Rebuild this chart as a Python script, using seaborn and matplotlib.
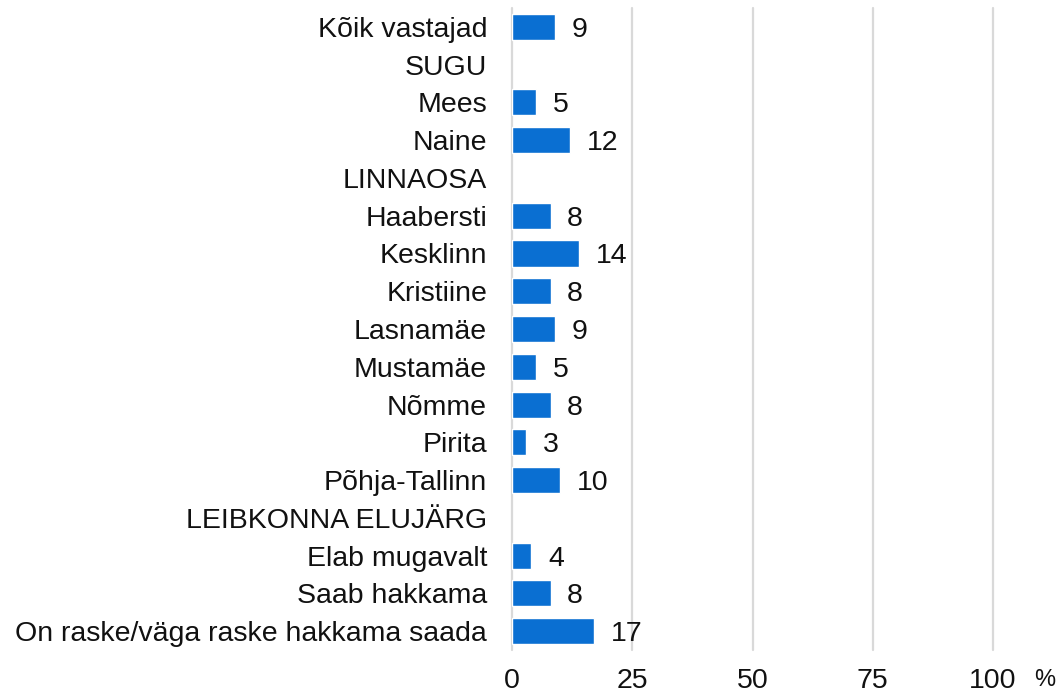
import numpy as np
import pandas as pd
import matplotlib
matplotlib.use('Agg')
import matplotlib.pyplot as plt
import seaborn as sns

# Data
categories = ['Kõik vastajad', 'SUGU', 'Mees', 'Naine', 'LINNAOSA', 'Haabersti',
              'Kesklinn', 'Kristiine', 'Lasnamäe', 'Mustamäe', 'Nõmme', 'Pirita',
              'Põhja-Tallinn', 'LEIBKONNA ELUJÄRG', 'Elab mugavalt', 'Saab hakkama',
              'On raske/väga raske hakkama saada']
values = [9, np.nan, 5, 12, np.nan, 8, 14, 8, 9, 5, 8, 3, 10, np.nan, 4, 8, 17]
xticks = [0, 25, 50, 75, 100]

df = pd.DataFrame({'group': categories, 'value': values})

sns.set_style('white')
plt.rcParams['font.family'] = ['Liberation Sans', 'DejaVu Sans']

fig, ax = plt.subplots(figsize=(10.59, 6.95), dpi=100)
fig.subplots_adjust(left=0.4835, right=0.9377, bottom=0.0647, top=0.9885)

sns.barplot(data=df.dropna(), x='value', y='group', order=categories,
            orient='h', color='#0A6FD2', saturation=1, width=0.69, ax=ax)

# Value labels
for i, v in enumerate(values):
    if not np.isnan(v):
        ax.annotate(f'{v:.0f}', xy=(v, i), xytext=(12, 0), textcoords='offset points',
                    ha='left', va='center_baseline', fontsize=20.5, color='#111111')

ax.set_xlim(0, 100)
ax.set_ylim(len(categories) - 0.5, -0.5)
ax.set_xticks(xticks)
ax.xaxis.grid(True, color='#D9D9D9', linewidth=1.6)
for gl in ax.get_xgridlines():
    gl.set_clip_on(False)
ax.set_axisbelow(True)
for s in ax.spines.values():
    s.set_visible(False)
ax.tick_params(axis='x', length=0, pad=13, labelsize=20.5, labelcolor='#111111')
ax.tick_params(axis='y', length=0, pad=18, labelsize=20.5, labelcolor='#111111')
ax.set_xlabel('')
ax.set_ylabel('')
ax.text(1045 / 1059, 1 - 680 / 695, '%', transform=fig.transFigure,
        ha='center', va='center', fontsize=17, color='#111111')

fig.savefig('out.png', dpi=100)
